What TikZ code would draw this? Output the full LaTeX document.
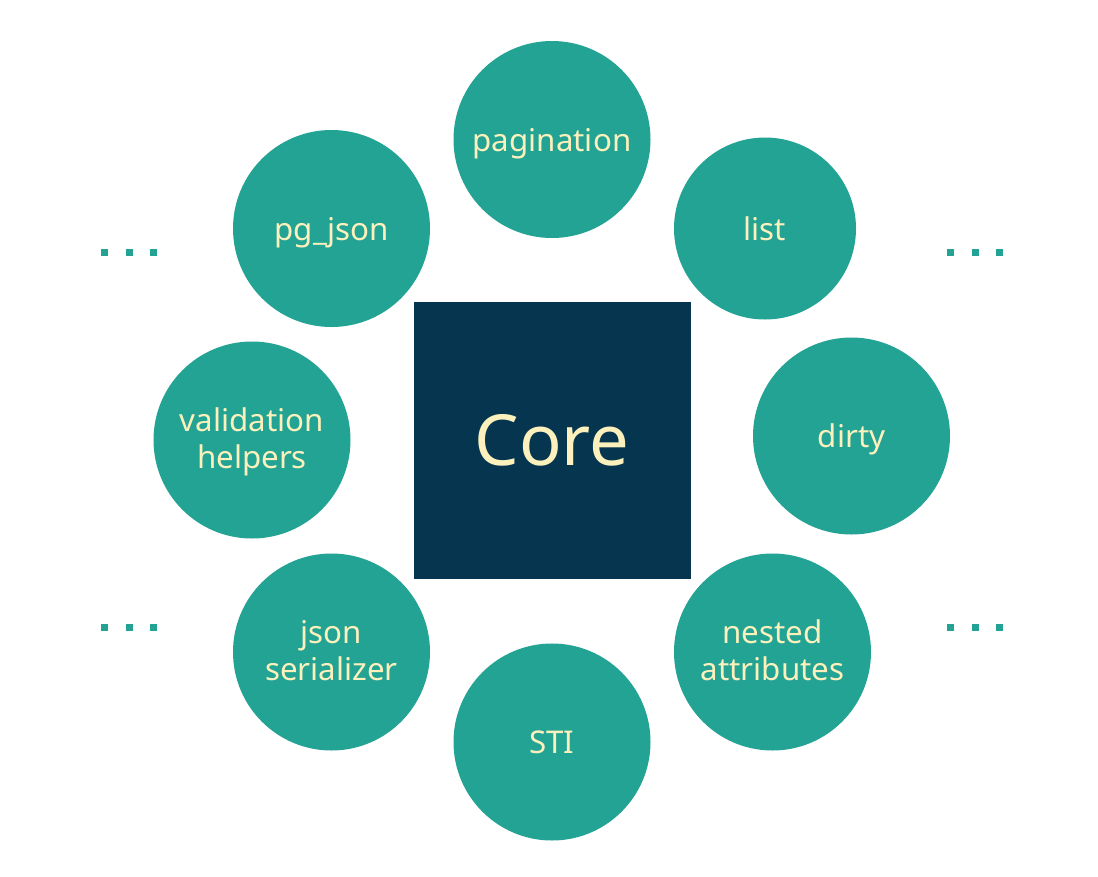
\documentclass[tikz,border=0pt]{standalone}
\usepackage{fontspec}
\setmainfont{Noto Sans}
\usetikzlibrary{positioning}
\definecolor{tealfill}{HTML}{22A393}
\definecolor{corefill}{HTML}{06364F}
\definecolor{labeltext}{HTML}{FCF1BD}
\tikzset{module/.style={circle,fill=tealfill,inner sep=0pt,minimum size=197pt,
    text=labeltext,align=center,font=\fontsize{31.3}{36.5}\selectfont,
    text height=23pt,text depth=0pt},
  two lines/.style={text height=59.5pt,text depth=3.4pt},
  dot/.style={rectangle,fill=tealfill,inner sep=0pt,minimum size=7pt}
}

\begin{document}
\begin{tikzpicture}[x=1pt,y=-1pt,on grid]
    \useasboundingbox[fill=white] (0,0) rectangle (1098,876);

    \node[rectangle,fill=corefill,minimum size=277pt,inner sep=0pt,text=labeltext,
          font=\fontsize{70.5}{80}\selectfont,text height=51pt,text depth=0pt]
          (core) at (552,440) {Core};

    \node[module] (pagination) [above=300.5pt of core]                  {pagination};
    \node[module,minimum size=182pt] (list) [above right=211.5pt and 213pt of core] {list};
    \node[module] (dirty)      [above right=4pt and 299.5pt of core]    {dirty};
    \node[module,two lines] (nested) [below right=212pt and 220.5pt of core] {nested\\attributes};
    \node[module] (sti)        [below=302pt of core]                    {STI};
    \node[module,two lines] (serializer) [below left=212pt and 220.5pt of core] {json\\serializer};
    \node[module,two lines] (validation) [left=300pt of core]           {validation\\helpers};
    \node[module] (pgjson)     [above left=211.5pt and 220.5pt of core] {pg\_json};

    % ellipses at the sides
    \foreach \y/\row in {252.7/top,627.7/bottom}
      \foreach \i in {0,1,2} {
        \node[dot] (dotl-\row-\i) at (104.7+24.5*\i,\y) {};
        \node[dot] (dotr-\row-\i) at (950.7+24.3*\i,\y) {};
      }
  \end{tikzpicture}
\end{document}
